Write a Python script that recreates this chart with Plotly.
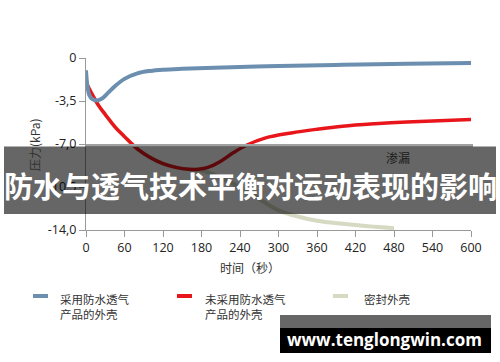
import plotly.graph_objects as go

# ---- data ----
t_blue = [0, 2, 5, 10, 17, 25, 35, 45, 60, 80, 100, 120, 150, 200, 300, 400, 500, 600]
v_blue = [-1.0, -2.2, -3.0, -3.35, -3.45, -3.3, -2.8, -2.3, -1.7, -1.25, -1.05, -0.95, -0.88, -0.8, -0.65, -0.55, -0.47, -0.4]

t_red = [0, 10, 20, 30, 45, 60, 80, 100, 120, 140, 160, 175, 190, 210, 230, 250, 280, 320, 360, 400, 450, 500, 550, 600]
v_red = [-2.0, -3.0, -3.9, -4.6, -5.6, -6.4, -7.4, -8.1, -8.6, -8.9, -9.05, -9.05, -8.9, -8.4, -7.7, -7.1, -6.5, -6.1, -5.8, -5.55, -5.35, -5.2, -5.1, -5.0]

t_green = [0, 10, 20, 30, 45, 60, 80, 100, 120, 140, 160, 175, 190, 220, 250, 280, 300, 330, 360, 400, 440, 480]
v_green = [-2.0, -3.0, -3.9, -4.6, -5.6, -6.4, -7.4, -8.1, -8.6, -8.9, -9.05, -9.1, -9.3, -10.0, -10.8, -11.8, -12.4, -12.9, -13.25, -13.5, -13.7, -13.85]

x_ticks = [0, 60, 120, 180, 240, 300, 360, 420, 480, 540, 600]
y_ticks = [0, -3.5, -7.0, -10.5, -14.0]
y_tick_labels = ["0", "-3,5", "-7,0", "-10,5", "-14,0"]

series_names = ["采用防水透气<br>产品的外壳", "未采用防水透气<br>产品的外壳", "密封外壳"]
series_colors = ["#6c8fb0", "#e8161b", "#d6dac2"]

title_text = "防水与透气技术平衡对运动表现的影响"
x_title = "时间（秒）"
y_title = "压力(kPa)"
leak_label = "渗漏"
watermark = "www.tenglongwin.com"

W, H = 500, 362
L, R, T, B = 86, 471, 58, 230  # plot area in pixels

def px(x):
    return (x - L) / (R - L)

def py(y):
    return (B - y) / (B - T)

FONT = "Open Sans, Noto Sans CJK SC, sans-serif"
CJK = "Noto Sans CJK SC, sans-serif"

fig = go.Figure()
fig.add_trace(go.Scatter(x=t_green, y=v_green, mode="lines", line=dict(color=series_colors[2], width=4, shape="spline"), showlegend=False))
fig.add_trace(go.Scatter(x=t_red, y=v_red, mode="lines", line=dict(color=series_colors[1], width=3.5, shape="spline"), showlegend=False))
fig.add_trace(go.Scatter(x=t_blue, y=v_blue, mode="lines", line=dict(color=series_colors[0], width=4, shape="spline"), showlegend=False))

shapes = []
annotations = []

# thin light strip (top of original leak box)
shapes.append(dict(type="rect", xref="paper", yref="paper", x0=px(86), x1=px(473), y0=py(147), y1=py(144),
                   fillcolor="#a0a0a0", line=dict(width=0), layer="above"))
# dark translucent overlay band
shapes.append(dict(type="rect", xref="paper", yref="paper", x0=px(4), x1=px(496), y0=py(214), y1=py(146.5),
                   fillcolor="rgba(0,0,0,0.6)", line=dict(width=0), layer="above"))

annotations.append(dict(xref="paper", yref="paper", x=px(398), y=py(157), text=leak_label, showarrow=False,
                        font=dict(family=CJK, size=12, color="#1a1a1a"), xanchor="center", yanchor="middle"))
annotations.append(dict(xref="paper", yref="paper", x=px(250), y=py(185), text="<b>" + title_text + "</b>", showarrow=False,
                        font=dict(family=CJK, size=29, color="white"), xanchor="center", yanchor="middle"))

# axis titles
annotations.append(dict(xref="paper", yref="paper", x=px(250), y=py(267), text=x_title, showarrow=False,
                        font=dict(family=CJK, size=12, color="#333"), xanchor="center", yanchor="middle"))
annotations.append(dict(xref="paper", yref="paper", x=px(34), y=py(145), text=y_title, showarrow=False, textangle=-90,
                        font=dict(family=CJK, size=12, color="#333"), xanchor="center", yanchor="middle"))

# legend (custom)
leg_x = [33, 177, 333]
leg_tx = [58, 203, 362]
for i in range(3):
    shapes.append(dict(type="rect", xref="paper", yref="paper", x0=px(leg_x[i]), x1=px(leg_x[i] + 15),
                       y0=py(298), y1=py(294), fillcolor=series_colors[i], line=dict(width=0)))
    annotations.append(dict(xref="paper", yref="paper", x=px(leg_tx[i]), y=py(289), text=series_names[i], showarrow=False,
                            font=dict(family=CJK, size=11.5, color="#333"), xanchor="left", yanchor="top", align="left"))

# watermark box
shapes.append(dict(type="rect", xref="paper", yref="paper", x0=px(280), x1=px(491), y0=py(328), y1=py(315),
                   fillcolor="#666666", line=dict(width=0), layer="above"))
shapes.append(dict(type="rect", xref="paper", yref="paper", x0=px(280), x1=px(491), y0=py(353), y1=py(328),
                   fillcolor="#000000", line=dict(width=0), layer="above"))
annotations.append(dict(xref="paper", yref="paper", x=px(384), y=py(339), text="<b>" + watermark + "</b>", showarrow=False,
                        font=dict(family="Open Sans, sans-serif", size=17, color="white"), xanchor="center", yanchor="middle"))

fig.update_layout(
    width=W, height=H,
    margin=dict(l=L, r=W - R, t=T, b=H - B),
    paper_bgcolor="white", plot_bgcolor="white",
    shapes=shapes, annotations=annotations,
    xaxis=dict(range=[0, 600], tickvals=x_ticks, showgrid=False, zeroline=False,
               showline=True, linecolor="#999", linewidth=1, ticks="outside", ticklen=6, tickcolor="#999",
               tickfont=dict(family=FONT, size=12.5, color="#222")),
    yaxis=dict(range=[-14, 0], tickvals=y_ticks, ticktext=y_tick_labels, showgrid=False, zeroline=False,
               showline=True, linecolor="#999", linewidth=1, ticks="outside", ticklen=6, tickcolor="#999",
               tickfont=dict(family=FONT, size=12.5, color="#222")),
    showlegend=False,
)

fig.write_html("out.html")
